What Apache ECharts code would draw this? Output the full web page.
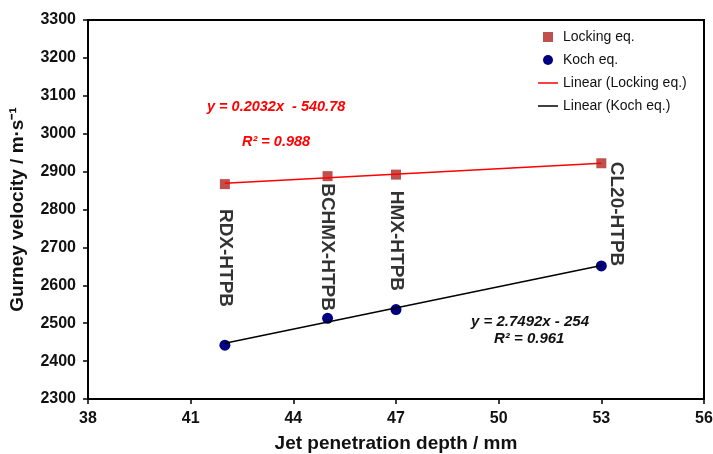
<!DOCTYPE html>
<html>
<head>
<meta charset="utf-8">
<script src="https://cdn.jsdelivr.net/npm/echarts@6/dist/echarts.min.js"></script>
<style>
  html, body { margin: 0; padding: 0; background: #fff; }
  #chart { width: 713px; height: 454px; }
</style>
</head>
<body>
<div id="chart"></div>
<script>
// jet penetration depth (mm) for each formulation
const depths = [42, 45, 47, 53]
const names = ['RDX-HTPB', 'BCHMX-HTPB', 'HMX-HTPB', 'CL20-HTPB']
const lockingVals = [2867, 2888, 2892, 2922]
const kochVals = [2442, 2513, 2536, 2651]
// trend line end points
const lockingFit = [[42, 2869], [53, 2922]]
const kochFit = [[42, 2447], [53, 2652]]
// where the rotated formulation names sit
const nameSpots = [[42, 2672], [45, 2701], [47, 2717], [53.45, 2788]]

const chart = echarts.init(document.getElementById('chart'))
const font = 'Liberation Sans, Arial, sans-serif'
const lineIcon = 'path://M0,0 H20 V1.5 H0 Z'

const option = {
  animation: false,
  textStyle: { fontFamily: font },
  grid: {
    left: 88, right: 9, top: 20, bottom: 55,
    outerBoundsMode: 'none', containLabel: false,
    show: true, borderColor: '#000', borderWidth: 2, backgroundColor: 'transparent'
  },
  legend: {
    orient: 'vertical',
    left: 533, top: 25,
    itemWidth: 20, itemHeight: 10, itemGap: 9,
    textStyle: { fontSize: 14, color: '#111', fontFamily: font },
    data: [
      { name: 'Locking eq.', icon: 'path://M0,0 H10 V10 H0 Z' },
      { name: 'Koch eq.', icon: 'circle' },
      { name: 'Linear (Locking eq.)', icon: lineIcon },
      { name: 'Linear (Koch eq.)', icon: lineIcon }
    ]
  },
  xAxis: {
    type: 'value', min: 38, max: 56, interval: 3,
    name: 'Jet penetration depth / mm', nameLocation: 'middle', nameGap: 35,
    nameTextStyle: { fontSize: 19, fontWeight: 'bold', color: '#111' },
    axisLine: { lineStyle: { color: '#000', width: 2 } },
    axisTick: { lineStyle: { color: '#000', width: 1.5 }, length: 5 },
    axisLabel: { fontSize: 16, fontWeight: 'bold', color: '#111', margin: 12 },
    splitLine: { show: false }
  },
  yAxis: {
    type: 'value', min: 2300, max: 3300, interval: 100,
    name: 'Gurney velocity / m·s⁻¹', nameLocation: 'middle', nameGap: 61,
    nameTextStyle: { fontSize: 19, fontWeight: 'bold', color: '#111' },
    axisLine: { lineStyle: { color: '#000', width: 2 } },
    axisTick: { lineStyle: { color: '#000', width: 1.5 }, length: 5 },
    axisLabel: { fontSize: 16, fontWeight: 'bold', color: '#111', margin: 12, formatter: v => String(v) },
    splitLine: { show: false }
  },
  series: [
    {
      name: 'Linear (Locking eq.)', type: 'line', data: lockingFit,
      symbol: 'none', lineStyle: { color: '#ff0000', width: 1.5 }, itemStyle: { color: '#ff0000' }
    },
    {
      name: 'Linear (Koch eq.)', type: 'line', data: kochFit,
      symbol: 'none', lineStyle: { color: '#000', width: 1.5 }, itemStyle: { color: '#000' }
    },
    {
      name: 'Locking eq.', type: 'scatter', symbol: 'rect', symbolSize: 10,
      data: depths.map((d, i) => [d, lockingVals[i]]),
      itemStyle: { color: '#c0504d', opacity: 1 }
    },
    {
      name: 'Koch eq.', type: 'scatter', symbol: 'circle', symbolSize: 11,
      data: depths.map((d, i) => [d, kochVals[i]]),
      itemStyle: { color: '#000080', opacity: 1 }
    },
    {
      type: 'scatter', symbolSize: 0, silent: true,
      data: nameSpots.map((p, i) => ({ value: p, name: names[i] })),
      label: {
        show: true, position: 'inside', rotate: -90, formatter: '{b}',
        fontSize: 19, fontWeight: 'bold', color: '#000'
      }
    }
  ],
  graphic: [
    { type: 'text', left: 207, top: 99, style: { text: 'y = 0.2032x  - 540.78', fill: '#ff0000', font: 'italic bold 14.5px ' + font } },
    { type: 'text', left: 242, top: 134, style: { text: 'R² = 0.988', fill: '#ff0000', font: 'italic bold 14.5px ' + font } },
    { type: 'text', left: 471, top: 314, style: { text: 'y = 2.7492x - 254', fill: '#111', font: 'italic bold 15px ' + font } },
    { type: 'text', left: 494, top: 331, style: { text: 'R² = 0.961', fill: '#111', font: 'italic bold 15px ' + font } }
  ]
}

chart.setOption(option)
</script>
</body>
</html>
